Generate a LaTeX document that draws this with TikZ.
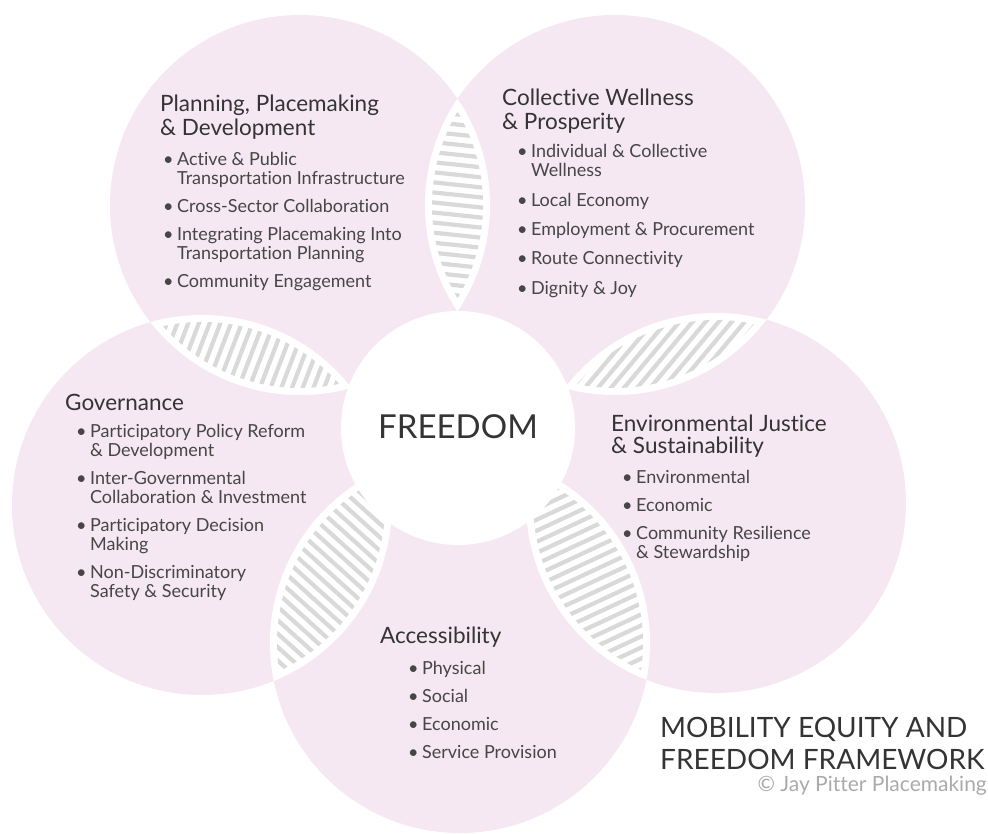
\documentclass[tikz,border=0pt]{standalone}
\usepackage{fontspec}
\setmainfont{Lato}[Ligatures=NoCommon]
\usetikzlibrary{positioning}

\definecolor{petal}{RGB}{245,232,242}
\definecolor{stripe}{RGB}{217,217,217}
\definecolor{ink}{RGB}{52,52,52}
\definecolor{inklight}{RGB}{70,70,70}
\definecolor{faint}{RGB}{170,170,170}

\def\R{190pt}
\def\Ri{183pt}
\newcommand{\bl}{\textbullet}

% white lens between two petals, filled with grey stripes
\newcommand{\lens}[3]{%
  \begin{scope}
    \clip (#1) circle (\R);
    \fill[white] (#2) circle (\R);
  \end{scope}
  \begin{scope}
    \clip (#1) circle (\Ri);
    \clip (#2) circle (\Ri);
    \path (#1) -- (#2) coordinate[midway] (m);
    \begin{scope}[shift={(m)}, rotate=#3]
      \foreach \k in {-18,...,18}
        \draw[stripe, line width=4.2pt] (-220,\k*10) -- (220,\k*10);
    \end{scope}
  \end{scope}
}

\tikzset{
  head/.style={anchor=base west, inner sep=0pt, text=ink},
  items/.style={anchor=base west, inner sep=0pt, text=inklight,
    font=\fontsize{18}{19}\selectfont},
}

\begin{document}
\begin{tikzpicture}[x=1pt, y=-1pt]
  \useasboundingbox (0,0) rectangle (988,834);

  \coordinate (plan) at (300,205);
  \coordinate (well) at (615,205);
  \coordinate (gov)  at (202,505);
  \coordinate (env)  at (716,503);
  \coordinate (acc)  at (460,643);
  \coordinate (free) at (458,428);

  % petals
  \foreach \c in {plan,well,gov,env,acc}
    \fill[petal] (\c) circle (\R);

  % overlaps
  \lens{plan}{well}{-6}
  \lens{plan}{gov}{69}
  \lens{well}{env}{50}
  \lens{gov}{acc}{-42}
  \lens{acc}{env}{25}

  % centre
  \fill[white] (free) circle (117pt);
  \node[inner sep=0pt, text=ink, font=\fontsize{33}{36}\selectfont] (freedom) at (458,427) {FREEDOM};

  % planning
  \node[head, font=\fontsize{22.5}{24}\selectfont] (plan-head) at (160,112)
    {\begin{tabular}[t]{@{}l@{}}Planning, Placemaking\\ \& Development\end{tabular}};
  \node[items] (plan-list) at (163,166)
    {\begin{tabular}[t]{@{}l@{\hspace{3.5pt}}l@{}}
      \bl & Active \& Public\\
          & Transportation Infrastructure\\[9pt]
      \bl & Cross-Sector Collaboration\\[9pt]
      \bl & Integrating Placemaking Into\\
          & Transportation Planning\\[9pt]
      \bl & Community Engagement
    \end{tabular}};

  % wellness
  \node[head, font=\fontsize{22.5}{23}\selectfont] (well-head) at (502,106)
    {\begin{tabular}[t]{@{}l@{}}Collective Wellness\\ \& Prosperity\end{tabular}};
  \node[items, font=\fontsize{18}{17.5}\selectfont] (well-list) at (517,158)
    {\begin{tabular}[t]{@{}l@{\hspace{3.5pt}}l@{}}
      \bl & Individual \& Collective\\
          & Wellness\\[11pt]
      \bl & Local Economy\\[11pt]
      \bl & Employment \& Procurement\\[11pt]
      \bl & Route Connectivity\\[11pt]
      \bl & Dignity \& Joy
    \end{tabular}};

  % governance
  \node[head, font=\fontsize{22.5}{23}\selectfont] (gov-head) at (65,410)
    {\begin{tabular}[t]{@{}l@{}}Governance\end{tabular}};
  \node[items] (gov-list) at (76,437)
    {\begin{tabular}[t]{@{}l@{\hspace{3.5pt}}l@{}}
      \bl & Participatory Policy Reform\\
          & \& Development\\[9pt]
      \bl & Inter-Governmental\\
          & Collaboration \& Investment\\[9pt]
      \bl & Participatory Decision\\
          & Making\\[9pt]
      \bl & Non-Discriminatory\\
          & Safety \& Security
    \end{tabular}};

  % environment
  \node[head, font=\fontsize{22.5}{19}\selectfont] (env-head) at (611,431)
    {\begin{tabular}[t]{@{}l@{}}Environmental Justice\\ \& Sustainability\end{tabular}};
  \node[items] (env-list) at (622,483)
    {\begin{tabular}[t]{@{}l@{\hspace{3.5pt}}l@{}}
      \bl & Environmental\\[9pt]
      \bl & Economic\\[9pt]
      \bl & Community Resilience\\
          & \& Stewardship
    \end{tabular}};

  % accessibility
  \node[head, font=\fontsize{22.5}{23}\selectfont] (acc-head) at (380,643)
    {\begin{tabular}[t]{@{}l@{}}Accessibility\end{tabular}};
  \node[items] (acc-list) at (408,674)
    {\begin{tabular}[t]{@{}l@{\hspace{3.5pt}}l@{}}
      \bl & Physical\\[9pt]
      \bl & Social\\[9pt]
      \bl & Economic\\[9pt]
      \bl & Service Provision
    \end{tabular}};

  % title
  \node[head, font=\fontsize{28}{32}\selectfont] (title) at (660,737)
    {\begin{tabular}[t]{@{}l@{}}MOBILITY EQUITY AND\\ FREEDOM FRAMEWORK\end{tabular}};
  \node[anchor=base east, inner sep=0pt, text=faint, font=\fontsize{21}{22}\selectfont]
    (credit) at (987,791) {© Jay Pitter Placemaking};
\end{tikzpicture}
\end{document}
